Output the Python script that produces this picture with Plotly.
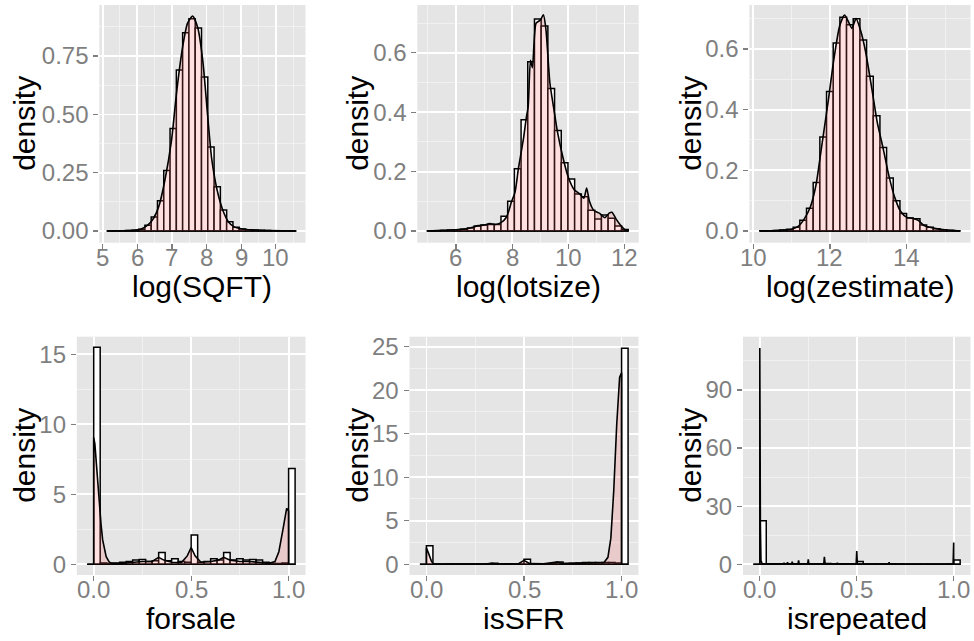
import plotly.graph_objects as go

W, H = 974, 641

# ---------------- data ----------------
# log(SQFT)
sqft_bin_start = 5.13
sqft_bin_width = 0.1817
sqft_hist = [0.0005, 0.001, 0.001, 0.002, 0.003, 0.008, 0.025, 0.06, 0.13, 0.26,
             0.44, 0.69, 0.85, 0.91, 0.87, 0.66, 0.36, 0.19, 0.09, 0.04,
             0.016, 0.009, 0.006, 0.004, 0.003, 0.002, 0.001, 0.001, 0.0005, 0.0005]
sqft_density = [(5.13, 0), (5.5, 0.001), (5.9, 0.003), (6.1, 0.008), (6.3, 0.025), (6.47, 0.055),
                (6.63, 0.11), (6.8, 0.22), (6.99, 0.39), (7.14, 0.6), (7.3, 0.78), (7.45, 0.89),
                (7.6, 0.922), (7.75, 0.87), (7.9, 0.72), (8.03, 0.5), (8.15, 0.31), (8.3, 0.18),
                (8.47, 0.09), (8.63, 0.04), (8.8, 0.018), (9.0, 0.01), (9.3, 0.005), (9.8, 0.002),
                (10.58, 0)]

# log(lotsize)
lot_bin_start = 4.98
lot_bin_width = 0.2383
lot_hist = [0.001, 0.001, 0.002, 0.003, 0.004, 0.006, 0.010, 0.017, 0.020, 0.022,
            0.022, 0.05, 0.10, 0.21, 0.375, 0.57, 0.714, 0.69, 0.48, 0.338,
            0.23, 0.175, 0.125, 0.115, 0.07, 0.04, 0.054, 0.043, 0.017, 0.005]
lot_density = [(4.98, 0), (5.5, 0.002), (6.0, 0.004), (6.5, 0.01), (6.8, 0.018), (7.0, 0.02),
               (7.2, 0.025), (7.4, 0.022), (7.6, 0.028), (7.8, 0.047), (7.98, 0.10), (8.1, 0.13),
               (8.22, 0.21), (8.4, 0.31), (8.5, 0.38), (8.57, 0.42), (8.65, 0.575), (8.72, 0.55),
               (8.85, 0.70), (9.0, 0.71), (9.11, 0.728), (9.2, 0.68), (9.34, 0.50), (9.5, 0.40),
               (9.6, 0.34), (9.8, 0.25), (10.0, 0.18), (10.2, 0.14), (10.4, 0.125), (10.55, 0.11),
               (10.65, 0.145), (10.75, 0.10), (10.9, 0.07), (11.1, 0.06), (11.3, 0.045),
               (11.45, 0.06), (11.55, 0.063), (11.7, 0.04), (11.85, 0.02), (12.0, 0.005), (12.13, 0)]

# log(zestimate)
zest_bin_start = 10.17
zest_bin_width = 0.174
zest_hist = [0.0005, 0.001, 0.002, 0.003, 0.006, 0.012, 0.035, 0.075, 0.16, 0.31,
             0.46, 0.62, 0.705, 0.68, 0.70, 0.63, 0.51, 0.38, 0.275, 0.175,
             0.10, 0.058, 0.043, 0.040, 0.02, 0.012, 0.007, 0.004, 0.002, 0.001]
zest_density = [(10.17, 0), (10.5, 0.001), (10.8, 0.003), (11.0, 0.006), (11.17, 0.015), (11.33, 0.04),
                (11.49, 0.08), (11.64, 0.155), (11.79, 0.285), (11.95, 0.425), (12.1, 0.565),
                (12.25, 0.675), (12.38, 0.712), (12.48, 0.69), (12.57, 0.668), (12.68, 0.70),
                (12.8, 0.66), (12.93, 0.59), (13.09, 0.47), (13.23, 0.36), (13.39, 0.27),
                (13.54, 0.18), (13.69, 0.11), (13.84, 0.065), (14.0, 0.045), (14.15, 0.042),
                (14.3, 0.035), (14.45, 0.018), (14.6, 0.012), (14.8, 0.007), (15.0, 0.004),
                (15.2, 0.002), (15.39, 0)]

# forsale / isSFR / isrepeated share bins of width 1/30 starting at -1/30
unit_bin_start = -1 / 30
unit_bin_width = 1 / 30
forsale_hist = [0, 15.5, 0.1, 0.05, 0.1, 0.15, 0.2, 0.3, 0.35, 0.2, 0.25, 0.85, 0.25, 0.4, 0.2, 0.15,
                2.1, 0.15, 0.2, 0.4, 0.3, 0.85, 0.3, 0.4, 0.3, 0.35, 0.3, 0.15, 0.05, 0.05, 0.1, 6.85]
forsale_density = [(0, 0), (0, 9.05), (0.006, 8.6), (0.012, 7.45), (0.02, 5.7), (0.029, 4.1),
                   (0.038, 2.8), (0.046, 1.74), (0.055, 1.0), (0.064, 0.54), (0.08, 0.15), (0.1, 0.05),
                   (0.15, 0.08), (0.2, 0.15), (0.25, 0.2), (0.3, 0.2), (0.333, 0.5), (0.36, 0.3),
                   (0.4, 0.15), (0.45, 0.12), (0.48, 0.6), (0.5, 1.2), (0.52, 0.6), (0.55, 0.15),
                   (0.6, 0.2), (0.64, 0.3), (0.667, 0.5), (0.7, 0.3), (0.75, 0.2), (0.8, 0.2),
                   (0.85, 0.15), (0.9, 0.07), (0.93, 0.2), (0.95, 0.9), (0.97, 2.4), (0.99, 4.0),
                   (1.0, 3.8), (1.0, 0)]

issfr_hist = [0, 2.14, 0.02, 0.01, 0.02, 0.02, 0.02, 0.03, 0.03, 0.03, 0.03, 0.12, 0.03, 0.05, 0.03, 0.03,
              0.57, 0.03, 0.03, 0.05, 0.05, 0.27, 0.1, 0.12, 0.15, 0.2, 0.2, 0.2, 0.2, 0.2, 0.15, 24.8]
issfr_density = [(0, 0), (0, 1.9), (0.012, 1.2), (0.025, 0.4), (0.035, 0.05), (0.05, 0.02),
                 (0.3, 0.03), (0.333, 0.12), (0.36, 0.03), (0.47, 0.05), (0.5, 0.45), (0.53, 0.08),
                 (0.6, 0.05), (0.667, 0.25), (0.7, 0.08), (0.75, 0.12), (0.85, 0.18), (0.91, 0.2),
                 (0.93, 0.8), (0.945, 3.0), (0.96, 8.5), (0.975, 16.0), (0.99, 21.5), (1.0, 22.0),
                 (1.0, 0)]

isrep_hist = [0, 22.5, 0.1, 0.1, 0.1, 0.2, 0.25, 0.3, 0.2, 0.1, 0.2, 0.4, 0.2, 0.2, 0.1, 0.1,
              1.5, 0.1, 0.1, 0.1, 0.1, 0.3, 0.1, 0.05, 0.05, 0.05, 0.05, 0.05, 0.05, 0.05, 0.1, 2.2]
isrep_density = [(0, 0), (0, 111.7), (0.003, 20), (0.006, 2), (0.012, 0.3), (0.1, 0.2),
                 (0.122, 0.2), (0.125, 0.8), (0.128, 0.2), (0.14, 0.2), (0.143, 1.0), (0.146, 0.2),
                 (0.164, 0.2), (0.167, 1.3), (0.17, 0.2), (0.197, 0.2), (0.2, 2.0), (0.203, 0.2),
                 (0.247, 0.2), (0.25, 2.5), (0.253, 0.2), (0.33, 0.2), (0.333, 3.9), (0.337, 0.3),
                 (0.397, 0.2), (0.4, 0.8), (0.403, 0.2), (0.497, 0.3), (0.5, 6.9), (0.503, 0.3),
                 (0.597, 0.1), (0.6, 0.4), (0.603, 0.1), (0.664, 0.1), (0.667, 1.0), (0.67, 0.1),
                 (0.997, 0.1), (1.0, 11.2), (1.0, 0)]

# tick labels
sqft_xticks = [5, 6, 7, 8, 9, 10]
lot_xticks = [6, 8, 10, 12]
zest_xticks = [10, 12, 14]
unit_xticks = [0.0, 0.5, 1.0]
unit_xlabels = ["0.0", "0.5", "1.0"]
sqft_yticks = [0.0, 0.25, 0.5, 0.75]
sqft_ylabels = ["0.00", "0.25", "0.50", "0.75"]
frac_yticks = [0.0, 0.2, 0.4, 0.6]
frac_ylabels = ["0.0", "0.2", "0.4", "0.6"]
forsale_yticks = [0, 5, 10, 15]
issfr_yticks = [0, 5, 10, 15, 20, 25]
isrep_yticks = [0, 30, 60, 90]

x_titles = ["log(SQFT)", "log(lotsize)", "log(zestimate)", "forsale", "isSFR", "isrepeated"]

# ---------------- layout geometry (pixels) ----------------
panels = [
    dict(hist=sqft_hist, start=sqft_bin_start, bw=sqft_bin_width, dens=sqft_density, shape="spline",
         xd=(99.3, 305.5), yd=(5, 242.7), xr=(4.902, 10.861), yr=(-0.050, 0.969),
         xt=sqft_xticks, xl=[str(v) for v in sqft_xticks], xm=[5.5, 6.5, 7.5, 8.5, 9.5, 10.5],
         yt=sqft_yticks, yl=sqft_ylabels, ym=[0.125, 0.375, 0.625, 0.875]),
    dict(hist=lot_hist, start=lot_bin_start, bw=lot_bin_width, dens=lot_density, shape="spline",
         xd=(417.3, 638.7), yd=(5, 242.7), xr=(4.623, 12.502), yr=(-0.0394, 0.761),
         xt=lot_xticks, xl=[str(v) for v in lot_xticks], xm=[5, 7, 9, 11],
         yt=frac_yticks, yl=frac_ylabels, ym=[0.1, 0.3, 0.5, 0.7]),
    dict(hist=zest_hist, start=zest_bin_start, bw=zest_bin_width, dens=zest_density, shape="spline",
         xd=(749.3, 970.5), yd=(5, 242.7), xr=(9.896, 15.664), yr=(-0.0386, 0.745),
         xt=zest_xticks, xl=[str(v) for v in zest_xticks], xm=[11, 13, 15],
         yt=frac_yticks, yl=frac_ylabels, ym=[0.1, 0.3, 0.5, 0.7]),
    dict(hist=forsale_hist, start=unit_bin_start, bw=unit_bin_width, dens=forsale_density, shape="linear",
         xd=(76.8, 305.5), yd=(336.7, 575), xr=(-0.0867, 1.0867), yr=(-0.764, 16.26),
         xt=unit_xticks, xl=unit_xlabels, xm=[0.25, 0.75],
         yt=forsale_yticks, yl=[str(v) for v in forsale_yticks], ym=[2.5, 7.5, 12.5]),
    dict(hist=issfr_hist, start=unit_bin_start, bw=unit_bin_width, dens=issfr_density, shape="linear",
         xd=(409.5, 638.5), yd=(336.7, 575), xr=(-0.0867, 1.0867), yr=(-1.23, 26.14),
         xt=unit_xticks, xl=unit_xlabels, xm=[0.25, 0.75],
         yt=issfr_yticks, yl=[str(v) for v in issfr_yticks], ym=[2.5, 7.5, 12.5, 17.5, 22.5]),
    dict(hist=isrep_hist, start=unit_bin_start, bw=unit_bin_width, dens=isrep_density, shape="linear",
         xd=(743.0, 970.5), yd=(336.7, 575), xr=(-0.0867, 1.0867), yr=(-5.52, 117.5),
         xt=unit_xticks, xl=unit_xlabels, xm=[0.25, 0.75],
         yt=isrep_yticks, yl=[str(v) for v in isrep_yticks], ym=[15, 45, 75, 105]),
]
ytitle_x = [25, 358, 691]

FONT = "Liberation Sans, Arial, sans-serif"
TICK_GREY = "#7F7F7F"

fig = go.Figure()
layout = dict(
    width=W, height=H, margin=dict(l=0, r=0, t=0, b=0),
    paper_bgcolor="white", plot_bgcolor="#E5E5E5",
    showlegend=False, barmode="overlay", annotations=[],
)

for i, p in enumerate(panels):
    n = i + 1
    xa = "x" if n == 1 else f"x{n}"
    ya = "y" if n == 1 else f"y{n}"
    centers = [p["start"] + p["bw"] * (k + 0.5) for k in range(len(p["hist"]))]
    fig.add_trace(go.Bar(
        x=centers, y=p["hist"], width=p["bw"], xaxis=xa, yaxis=ya,
        marker=dict(color="white", line=dict(color="black", width=1.5)),
        hoverinfo="skip",
    ))
    x0 = p["start"]
    x1 = p["start"] + p["bw"] * len(p["hist"])
    fig.add_trace(go.Scatter(
        x=[x0, x1], y=[0, 0], mode="lines", xaxis=xa, yaxis=ya,
        line=dict(color="black", width=1.4), hoverinfo="skip",
    ))
    dx = [d[0] for d in p["dens"]]
    dy = [d[1] for d in p["dens"]]
    fig.add_trace(go.Scatter(
        x=dx, y=dy, mode="lines", xaxis=xa, yaxis=ya, fill="tozeroy",
        fillcolor="rgba(255,102,102,0.2)",
        line=dict(color="black", width=1.6, shape=p["shape"], smoothing=0.6 if p["shape"] == "spline" else None),
        hoverinfo="skip",
    ))

    common = dict(
        showgrid=True, gridcolor="white", gridwidth=1.8,
        zeroline=False, showline=False,
        ticks="outside", ticklen=5, tickwidth=1.2, tickcolor=TICK_GREY,
        tickfont=dict(family=FONT, size=24, color=TICK_GREY),
        tickmode="array", automargin=False, fixedrange=True,
    )
    layout["xaxis" if n == 1 else f"xaxis{n}"] = dict(
        common,
        domain=[p["xd"][0] / W, p["xd"][1] / W],
        range=list(p["xr"]), anchor=ya,
        tickvals=p["xt"], ticktext=p["xl"], showticklabels=False,
        minor=dict(tickmode="array", tickvals=p["xm"], showgrid=True, gridcolor="#F2F2F2", gridwidth=0.9, ticks=""),
    )
    layout["yaxis" if n == 1 else f"yaxis{n}"] = dict(
        common,
        domain=[1 - p["yd"][1] / H, 1 - p["yd"][0] / H],
        range=list(p["yr"]), anchor=xa,
        tickvals=p["yt"], ticktext=p["yl"],
        minor=dict(tickmode="array", tickvals=p["ym"], showgrid=True, gridcolor="#F2F2F2", gridwidth=0.9, ticks=""),
    )

    # x tick labels placed in data coordinates of the x axis
    lab_y = p["yd"][1] + 14.5
    for v, t in zip(p["xt"], p["xl"]):
        layout["annotations"].append(dict(
            text=t, x=v, xref=xa, y=1 - lab_y / H, yref="paper",
            xanchor="center", yanchor="middle", showarrow=False,
            font=dict(family=FONT, size=24, color=TICK_GREY),
        ))

    # axis titles
    xc = (p["xd"][0] + p["xd"][1]) / 2
    base = p["yd"][1] + 53.3
    layout["annotations"].append(dict(
        text=x_titles[i], x=xc / W, y=1 - (base - 10) / H, xref="paper", yref="paper",
        xanchor="center", yanchor="middle", showarrow=False,
        font=dict(family=FONT, size=30, color="black"),
    ))
    yc = (p["yd"][0] + p["yd"][1]) / 2
    layout["annotations"].append(dict(
        text="density", x=ytitle_x[i % 3] / W, y=1 - yc / H, xref="paper", yref="paper",
        xanchor="center", yanchor="middle", showarrow=False, textangle=-90,
        font=dict(family=FONT, size=30, color="black"),
    ))

fig.update_layout(**layout)
fig.write_html(
    "out.html",
    config={"displayModeBar": False, "staticPlot": True},
    post_script="document.body.style.margin='0';document.body.style.overflow='hidden';",
)
